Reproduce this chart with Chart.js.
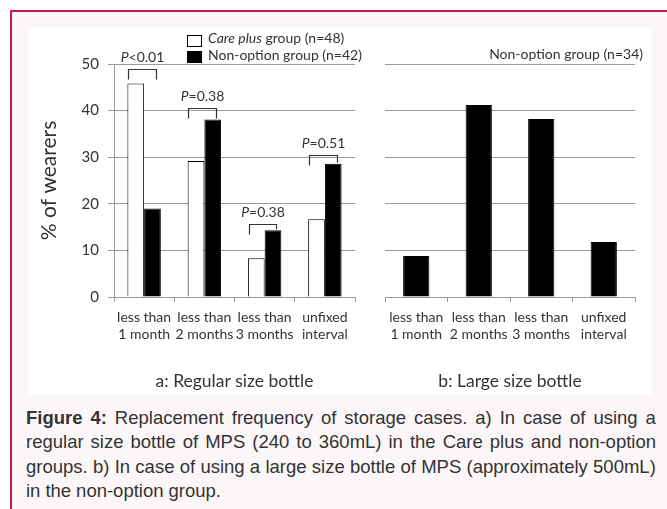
<!DOCTYPE html>
<html>
<head>
<meta charset="utf-8">
<script src="https://cdn.jsdelivr.net/npm/chart.js@4.4.0/dist/chart.umd.min.js"></script>
<style>
  html, body { margin: 0; padding: 0; background: #fff; }
  #page { position: relative; width: 667px; height: 509px; overflow: hidden; background: #fff; }
  #frame { position: absolute; left: 10px; top: 10px; width: 700px; height: 520px;
           border-top: 2px solid #c8174a; border-left: 2px solid #c8174a;
           background: #fbf7f8; box-sizing: border-box; }
  #panel { position: absolute; left: 28px; top: 27px; width: 624px; height: 368px; background: #fff; }
  #chartA { position: absolute; left: 28px; top: 27px; }
  #chartB { position: absolute; left: 365px; top: 27px; }
  #caption { position: absolute; left: 26px; top: 406px; width: 630px;
             font-family: "Liberation Sans", Arial, sans-serif; font-size: 18.5px;
             line-height: 24.4px; color: #333; }
  .ln { display: flex; justify-content: space-between; white-space: nowrap; }
  .ln.last { justify-content: flex-start; gap: 0.27em; }
</style>
</head>
<body>
<div id="page">
  <div id="frame"></div>
  <div id="panel"></div>
  <canvas id="chartA" width="337" height="368"></canvas>
  <canvas id="chartB" width="287" height="368"></canvas>
  <div id="caption"></div>
</div>
<script>
// Replacement interval categories (shared by both panels)
const categories = [
  ['less than', '1 month'],
  ['less than', '2 months'],
  ['less than', '3 months'],
  ['unfixed', 'interval']
];

// Panel a: regular size bottle, % of wearers
const carePlusRegular = [45.8, 29.2, 8.3, 16.7];   // Care plus group (n=48)
const nonOptionRegular = [19.0, 38.1, 14.3, 28.6]; // Non-option group (n=42)

// Panel b: large size bottle, % of wearers
const nonOptionLarge = [8.8, 41.2, 38.2, 11.8];    // Non-option group (n=34)

// P values between the two groups in panel a
const pValues = ['<0.01', '=0.38', '=0.38', '=0.51'];

// Value axis
const yMin = 0, yMax = 50, yStep = 10;

const captionLines = [
  ['<b>Figure</b>', '<b>4:</b>', 'Replacement', 'frequency', 'of', 'storage', 'cases.', 'a)', 'In', 'case', 'of', 'using', 'a'],
  ['regular', 'size', 'bottle', 'of', 'MPS', '(240', 'to', '360mL)', 'in', 'the', 'Care', 'plus', 'and', 'non-option'],
  ['groups.', 'b)', 'In', 'case', 'of', 'using', 'a', 'large', 'size', 'bottle', 'of', 'MPS', '(approximately', '500mL)'],
  ['in', 'the', 'non-option', 'group.']
];

const FONT = 'Lato, "Open Sans", sans-serif';
const TEXT = '#333';
const GRID = '#9a9a9a';

// Caption, one justified line per row
const cap = document.getElementById('caption');
captionLines.forEach((words, i) => {
  const d = document.createElement('div');
  d.className = 'ln' + (i === captionLines.length - 1 ? ' last' : '');
  d.innerHTML = words.map(w => '<span>' + w + '</span>').join('');
  cap.appendChild(d);
});

// Draws a text run made of [text, italic] pieces
function drawRuns(ctx, runs, x, y, size, align) {
  const widths = runs.map(([t, it]) => {
    ctx.font = (it ? 'italic ' : '') + size + 'px ' + FONT;
    return ctx.measureText(t).width;
  });
  const total = widths.reduce((s, w) => s + w, 0);
  let cx = align === 'center' ? x - total / 2 : align === 'right' ? x - total : x;
  ctx.textBaseline = 'middle';
  ctx.textAlign = 'left';
  runs.forEach(([t, it], i) => {
    ctx.font = (it ? 'italic ' : '') + size + 'px ' + FONT;
    ctx.fillText(t, cx, y);
    cx += widths[i];
  });
}

// Significance brackets over each category pair in panel a
const bracketLift = [15, 11.5, 6.5, 9]; // px above the taller bar of each pair
const bracketPlugin = {
  id: 'pBrackets',
  afterDatasetsDraw(chart) {
    const ctx = chart.ctx;
    const white = chart.getDatasetMeta(0).data;
    const black = chart.getDatasetMeta(1).data;
    ctx.save();
    ctx.strokeStyle = '#333';
    ctx.lineWidth = 1.2;
    ctx.fillStyle = TEXT;
    pValues.forEach((p, i) => {
      const w = white[i], k = black[i];
      const x1 = Math.round(w.x - w.width * 0.45) + 0.5;
      const x2 = Math.round(k.x + k.width * 0.2) + 0.5;
      const yb = Math.round(Math.min(w.y, k.y) - bracketLift[i]) + 0.5;
      ctx.beginPath();
      ctx.moveTo(x1, Math.min(yb + 10, w.y - 1));
      ctx.lineTo(x1, yb);
      ctx.lineTo(x2, yb);
      ctx.lineTo(x2, Math.min(yb + 10, k.y - 1));
      ctx.stroke();
      drawRuns(ctx, [['P', true], [p, false]], (x1 + x2) / 2, yb - 12, 14, 'center');
    });
    ctx.restore();
  }
};

// Two-row legend for panel a
const legendA = {
  id: 'legendA',
  afterDraw(chart) {
    const ctx = chart.ctx;
    ctx.save();
    ctx.lineWidth = 1;
    ctx.fillStyle = '#fff';
    ctx.strokeStyle = '#000';
    ctx.fillRect(159, 8, 14, 11);
    ctx.strokeRect(159.5, 8.5, 14, 11);
    ctx.fillStyle = '#000';
    ctx.fillRect(159, 24, 15, 12);
    ctx.fillStyle = TEXT;
    drawRuns(ctx, [['Care plus', true], [' group (n=48)', false]], 180, 11.5, 14, 'left');
    drawRuns(ctx, [['Non-option group (n=42)', false]], 180, 28, 14, 'left');
    ctx.restore();
  }
};

// Group label for panel b
const legendB = {
  id: 'legendB',
  afterDraw(chart) {
    const ctx = chart.ctx;
    ctx.save();
    ctx.fillStyle = TEXT;
    drawRuns(ctx, [['Non-option group (n=34)', false]], 278, 27, 14, 'right');
    ctx.restore();
  }
};

function xScale(title) {
  return {
    grid: { drawOnChartArea: false, drawTicks: true, tickLength: 5, color: GRID, offset: true },
    border: { display: true, color: GRID },
    ticks: { color: TEXT, font: { family: FONT, size: 14, lineHeight: 1.22 }, padding: 7,
             maxRotation: 0, autoSkip: false },
    title: { display: true, text: title, color: TEXT, font: { family: FONT, size: 17.5 },
             padding: { top: 0, bottom: 3.5 } },
    afterFit(s) { s.height = 98; }
  };
}

const common = {
  responsive: false,
  animation: false,
  devicePixelRatio: 1,
  plugins: { legend: { display: false }, tooltip: { enabled: false } }
};

new Chart(document.getElementById('chartA'), {
  type: 'bar',
  data: {
    labels: categories,
    datasets: [
      { label: 'Care plus group (n=48)', data: carePlusRegular, backgroundColor: '#fff',
        borderColor: '#000', borderWidth: 1, categoryPercentage: 0.555, barPercentage: 1 },
      { label: 'Non-option group (n=42)', data: nonOptionRegular, backgroundColor: '#000',
        borderColor: '#000', borderWidth: 1, categoryPercentage: 0.555, barPercentage: 1 }
    ]
  },
  options: Object.assign({}, common, {
    layout: { padding: { top: 37, right: 10, left: 0, bottom: 0 } },
    scales: {
      x: xScale('a: Regular size bottle'),
      y: {
        min: yMin, max: yMax,
        ticks: { stepSize: yStep, color: TEXT, font: { family: FONT, size: 15 }, padding: 9 },
        grid: { color: GRID, tickLength: 6 },
        border: { display: true, color: GRID },
        title: { display: true, text: '% of wearers', color: TEXT, font: { family: FONT, size: 21 },
                 padding: { top: 9, bottom: 0 } },
        afterFit(s) { s.width = 86; }
      }
    }
  }),
  plugins: [bracketPlugin, legendA]
});

new Chart(document.getElementById('chartB'), {
  type: 'bar',
  data: {
    labels: categories,
    datasets: [
      { label: 'Non-option group (n=34)', data: nonOptionLarge, backgroundColor: '#000',
        borderColor: '#000', borderWidth: 1, categoryPercentage: 1, barPercentage: 0.42 }
    ]
  },
  options: Object.assign({}, common, {
    layout: { padding: { top: 37, right: 17, left: 20, bottom: 0 } },
    scales: {
      x: xScale('b: Large size bottle'),
      y: {
        min: yMin, max: yMax,
        ticks: { stepSize: yStep, display: false },
        grid: { color: GRID, drawTicks: false },
        border: { display: false },
        afterFit(s) { s.width = 0; }
      }
    }
  }),
  plugins: [legendB]
});
</script>
</body>
</html>
